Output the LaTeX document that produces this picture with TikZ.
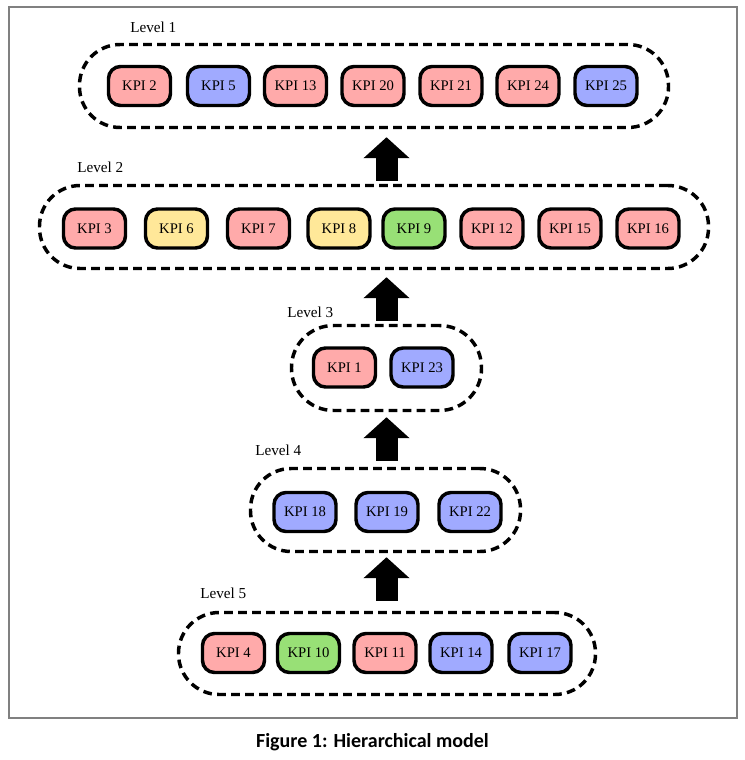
\documentclass[tikz,border=0pt]{standalone}
\usepackage{fontspec}
\setmainfont{Liberation Serif}
\newfontfamily\capfont{Carlito}
\usetikzlibrary{arrows.meta}
\usetikzlibrary{positioning,calc}

\definecolor{kpipink}{RGB}{255,170,170}
\definecolor{kpiblue}{RGB}{160,170,255}
\definecolor{kpiyellow}{RGB}{255,232,153}
\definecolor{kpigreen}{RGB}{152,224,118}
\definecolor{framegray}{RGB}{128,128,128}

\tikzset{
  kpi/.style={draw, line width=2.6pt, rounded corners=9pt, minimum width=46.5pt,
    minimum height=29.25pt, inner sep=0pt, font=\fontsize{11}{13}\selectfont},
  pinkkpi/.style={kpi, fill=kpipink},
  bluekpi/.style={kpi, fill=kpiblue},
  yellowkpi/.style={kpi, fill=kpiyellow},
  greenkpi/.style={kpi, fill=kpigreen},
  levelbox/.style={draw, line width=2.6pt, dash pattern={on 6.5pt off 4pt},
    rounded corners=30.5pt, inner sep=0pt},
  levellabel/.style={anchor=west, inner sep=0pt, font=\fontsize{11.4}{13}\selectfont},
  uparrow/.style={line width=16.5pt, -{Triangle[length=15.75pt,width=33.75pt]}},
}

\begin{document}
\begin{tikzpicture}[x=0.75pt,y=0.75pt,yscale=-1,xscale=1]
\useasboundingbox (0,0) rectangle (744,760);

%Frame
\draw [framegray, line width=1.5pt] (8.5,6.5) rectangle (736.5,717.5);

%Level 1
\node[levelbox, minimum width=441.75pt, minimum height=62.25pt] (lvl1) at (374,86) {};
\node[levellabel] (lab1) at (130,27) {Level 1};
\node[pinkkpi] (k2) at (139.5,86) {KPI 2};
\node[bluekpi] (k5) at (218.5,86) {KPI 5};
\node[pinkkpi] (k13) at (295.5,86) {KPI 13};
\node[pinkkpi] (k20) at (373,86) {KPI 20};
\node[pinkkpi] (k21) at (451,86) {KPI 21};
\node[pinkkpi] (k24) at (528,86) {KPI 24};
\node[bluekpi] (k25) at (606,86) {KPI 25};

%Level 2
\node[levelbox, minimum width=501.75pt, minimum height=62.25pt] (lvl2) at (374,227) {};
\node[levellabel] (lab2) at (77,167) {Level 2};
\node[pinkkpi] (k3) at (94.5,228.5) {KPI 3};
\node[yellowkpi] (k6) at (176.5,228.5) {KPI 6};
\node[pinkkpi] (k7) at (258.5,228.5) {KPI 7};
\node[yellowkpi] (k8) at (339,228.5) {KPI 8};
\node[greenkpi] (k9) at (414,228.5) {KPI 9};
\node[pinkkpi] (k12) at (492,228.5) {KPI 12};
\node[pinkkpi] (k15) at (570,228.5) {KPI 15};
\node[pinkkpi] (k16) at (648,228.5) {KPI 16};

%Level 3
\node[levelbox, rounded corners=31.5pt, minimum width=142.5pt, minimum height=63.75pt] (lvl3) at (386.5,368) {};
\node[levellabel] (lab3) at (287,312) {Level 3};
\node[pinkkpi] (k1) at (344.5,367.5) {KPI 1};
\node[bluekpi] (k23) at (422,367.5) {KPI 23};

%Level 4
\node[levelbox, minimum width=202.5pt, minimum height=62.25pt] (lvl4) at (385.5,510) {};
\node[levellabel] (lab4) at (255,450) {Level 4};
\node[bluekpi] (k18) at (305,512) {KPI 18};
\node[bluekpi] (k19) at (387,512) {KPI 19};
\node[bluekpi] (k22) at (470,512) {KPI 22};

%Level 5
\node[levelbox, minimum width=312.75pt, minimum height=61.5pt] (lvl5) at (387,653.5) {};
\node[levellabel] (lab5) at (200,593) {Level 5};
\node[pinkkpi] (k4) at (233.5,653) {KPI 4};
\node[greenkpi] (k10) at (308.5,653) {KPI 10};
\node[pinkkpi] (k11) at (385,653) {KPI 11};
\node[bluekpi] (k14) at (461,653) {KPI 14};
\node[bluekpi] (k17) at (540,653) {KPI 17};

%Block arrows
\draw[uparrow, shorten <=2.25pt, shorten >=6pt] (lvl3.north |- lvl2.north) -- (lvl3.north |- lvl1.south);
\draw[uparrow, shorten <=2.25pt, shorten >=5.25pt] (lvl3.north) -- (lvl3.north |- lvl2.south);
\draw[uparrow, shorten <=4.5pt, shorten >=3.75pt] (lvl3.south |- lvl4.north) -- (lvl3.south);
\draw[uparrow, shorten <=7.5pt, shorten >=3pt] (lvl3.south |- lvl5.north) -- (lvl3.south |- lvl4.south);

%Caption
\node[font=\capfont\bfseries\fontsize{15}{17}\selectfont, inner sep=0pt] (cap) at (372.5,742) {Figure 1: Hierarchical model};
\end{tikzpicture}
\end{document}
